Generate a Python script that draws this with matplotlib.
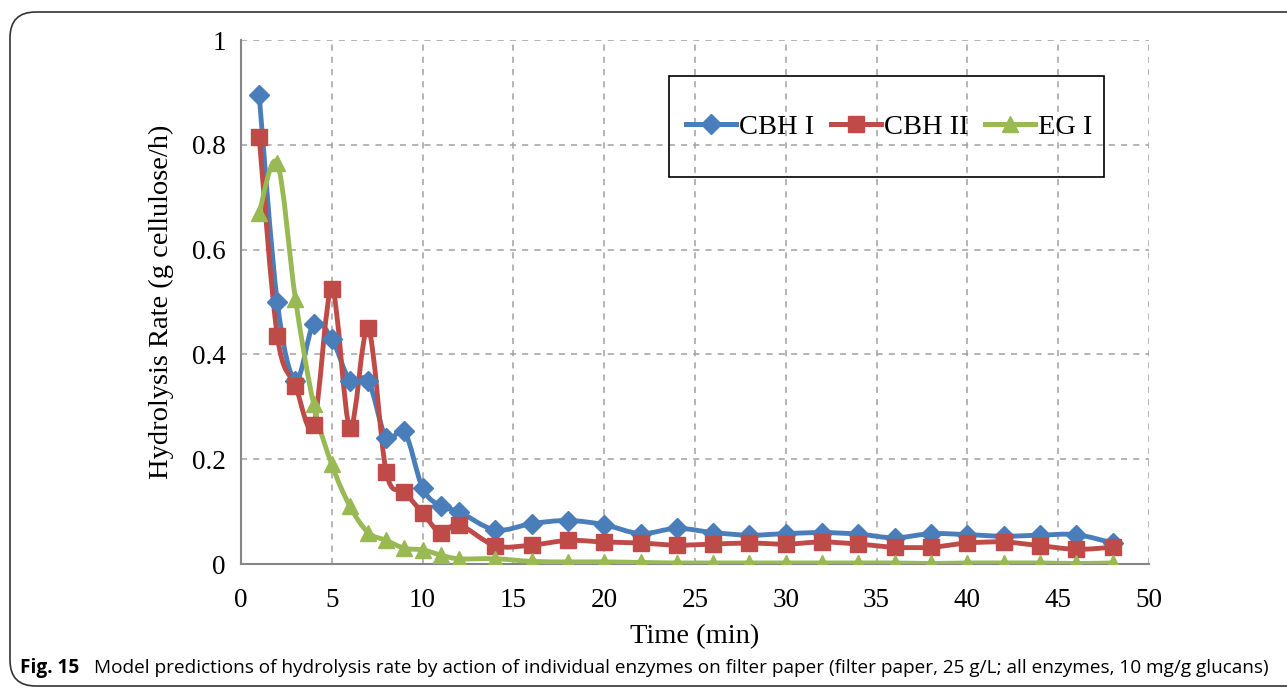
import matplotlib
matplotlib.use('Agg')
import matplotlib.pyplot as plt
from matplotlib.path import Path
from matplotlib.patches import PathPatch, Rectangle, FancyBboxPatch
from matplotlib.lines import Line2D
import numpy as np

# sampling times (min)
time_min = [1, 2, 3, 4, 5, 6, 7, 8, 9, 10, 11, 12, 14, 16, 18, 20, 22, 24, 26, 28,
            30, 32, 34, 36, 38, 40, 42, 44, 46, 48]

# hydrolysis rate, g cellulose/h
cbh1 = [0.895, 0.50, 0.35, 0.458, 0.43, 0.35, 0.35, 0.24, 0.253, 0.145, 0.11, 0.10,
        0.065, 0.077, 0.083, 0.075, 0.058, 0.068, 0.060, 0.055, 0.058, 0.060, 0.057,
        0.050, 0.058, 0.056, 0.053, 0.055, 0.056, 0.040]
cbh2 = [0.815, 0.435, 0.34, 0.265, 0.525, 0.26, 0.45, 0.175, 0.138, 0.097, 0.06, 0.075,
        0.035, 0.036, 0.045, 0.042, 0.040, 0.036, 0.038, 0.040, 0.038, 0.042, 0.038,
        0.032, 0.032, 0.040, 0.042, 0.035, 0.028, 0.032]
eg1 = [0.67, 0.765, 0.505, 0.305, 0.19, 0.11, 0.06, 0.045, 0.03, 0.027, 0.017, 0.01,
       0.01, 0.005, 0.004, 0.004, 0.003, 0.002, 0.002, 0.002, 0.002, 0.002, 0.002,
       0.002, 0.001, 0.002, 0.002, 0.002, 0.001, 0.002]

names = ['CBH I', 'CBH II', 'EG I']
colors = ['#4A7EBB', '#BE4B48', '#98B954']
markers = ['D', 's', '^']
msizes = [10.5, 12, 11]

plt.rcParams['font.family'] = ['Liberation Serif', 'DejaVu Serif']


def smooth_path(x, y):
    # Catmull-Rom style cubic bezier through the points (like Excel "smoothed line")
    pts = np.column_stack([x, y]).astype(float)
    n = len(pts)
    verts = [pts[0]]
    codes = [Path.MOVETO]
    for i in range(n - 1):
        p0 = pts[i - 1] if i > 0 else pts[i]
        p1 = pts[i]
        p2 = pts[i + 1]
        p3 = pts[i + 2] if i + 2 < n else pts[i + 1]
        c1 = p1 + (p2 - p0) / 6.0
        c2 = p2 - (p3 - p1) / 6.0
        verts += [c1, c2, p2]
        codes += [Path.CURVE4] * 3
    return Path(verts, codes)


fig = plt.figure(figsize=(12.87, 6.89), dpi=100)
ax = fig.add_axes([241 / 1287, 1 - 564 / 689, 908 / 1287, 524 / 689])

for ys, c, m, ms in zip([cbh1, cbh2, eg1], colors, markers, msizes):
    ax.add_patch(PathPatch(smooth_path(time_min, ys), facecolor='none', edgecolor=c,
                           lw=3.5, zorder=3, capstyle='round', joinstyle='round'))
    ax.plot(time_min, ys, linestyle='none', marker=m, ms=ms, color=c, mec=c, zorder=4)

ax.set_xlim(0, 50)
ax.set_ylim(0, 1)
ax.set_xticks(np.arange(0, 51, 5))
ax.set_yticks([0, 0.2, 0.4, 0.6, 0.8, 1])
ax.set_yticklabels(['0', '0.2', '0.4', '0.6', '0.8', '1'])
ax.tick_params(labelsize=19.5, length=0)
ax.tick_params(axis='x', pad=17)
ax.tick_params(axis='y', pad=11)
ax.grid(True, color='#A0A0A0', linestyle=(0, (4, 4)), lw=1.1)
for s in ['top', 'right']:
    ax.spines[s].set_visible(False)
for s in ['left', 'bottom']:
    ax.spines[s].set_color('#868686')
    ax.spines[s].set_linewidth(1.5)
ax.set_xlabel('Time (min)', fontsize=20.5, labelpad=8)
ax.set_ylabel('Hydrolysis Rate (g cellulose/h)', fontsize=20.5, labelpad=13)

# legend box: black outline, no fill (grid shows through)
ax.add_patch(Rectangle((0.471, 0.739), 0.479, 0.192, transform=ax.transAxes,
                       facecolor='none', edgecolor='black', lw=1.2, zorder=5))
handles = [Line2D([], [], color=c, lw=3.6, marker=m, ms=ms)
           for c, m, ms in zip(colors, markers, msizes)]
leg = ax.legend(handles, names, loc='center', bbox_to_anchor=(0.7137, 0.834),
                ncol=3, frameon=False, fontsize=20.5, handlelength=1.75,
                handletextpad=0.1, columnspacing=0.6, borderpad=0)
leg.set_zorder(6)

# rounded panel border
fig.patches.append(FancyBboxPatch((10 / 1287, 3 / 689), 1.2, 674 / 689,
                                  boxstyle='round,pad=0,rounding_size=0.02',
                                  transform=fig.transFigure, facecolor='none',
                                  edgecolor='#333333', lw=1.2, mutation_aspect=1.87))

fig.text(20 / 1287, 1 - 668 / 689, 'Fig. 15', fontsize=13.7, fontweight='bold',
         family=['Open Sans', 'DejaVu Sans'], va='center', ha='left')
fig.text(94 / 1287, 1 - 668 / 689,
         'Model predictions of hydrolysis rate by action of individual enzymes on filter '
         'paper (filter paper, 25 g/L; all enzymes, 10 mg/g glucans)',
         fontsize=13.7, family=['Open Sans', 'DejaVu Sans'], va='center', ha='left')

fig.savefig('out.png', dpi=100)
